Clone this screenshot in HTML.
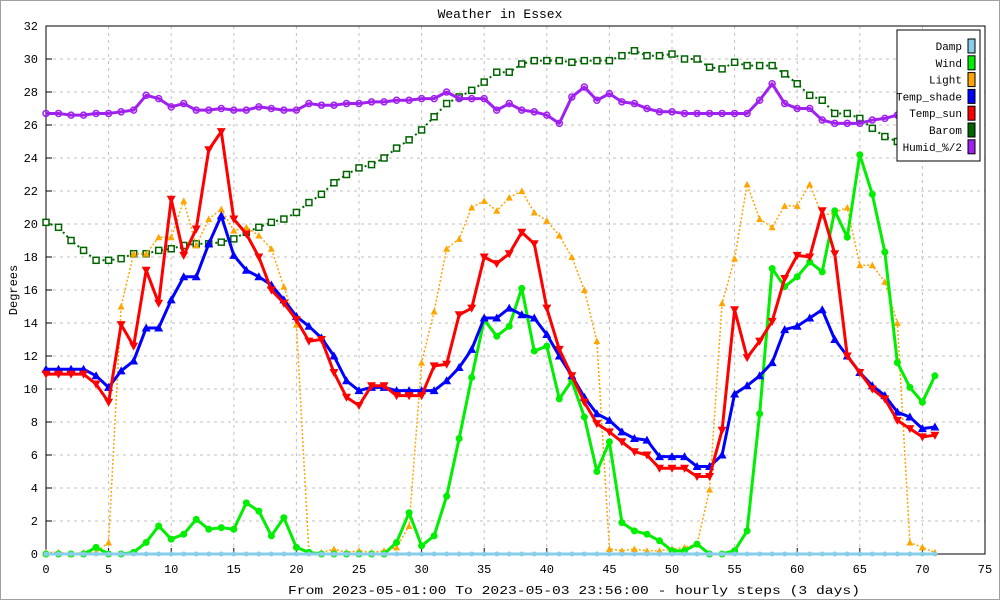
<!DOCTYPE html>
<html><head><meta charset="utf-8"><style>
html,body{margin:0;padding:0;background:#fff}
svg{display:block;font-family:"Liberation Mono",monospace}
</style></head><body>
<svg id="chart" width="1000" height="600" viewBox="0 0 1000 600" xmlns="http://www.w3.org/2000/svg">
<rect x="0.5" y="0.5" width="999" height="599" fill="#fff" stroke="#a0a0a0"/>
<text x="500" y="18" text-anchor="middle" font-size="13">Weather in Essex</text>
<text transform="translate(17,290) rotate(-90)" text-anchor="middle" font-size="12">Degrees</text>
<text x="574" y="594" text-anchor="middle" font-size="11.5" textLength="572" lengthAdjust="spacingAndGlyphs">From 2023-05-01:00 To 2023-05-03 23:56:00 - hourly steps (3 days)</text>
<g id="grid"></g>
<g id="axes"></g>
<g id="series"></g>
<g id="legend"></g>
</svg>
<script>
const xTicks=[0,5,10,15,20,25,30,35,40,45,50,55,60,65,70,75];
const yTicks=[0,2,4,6,8,10,12,14,16,18,20,22,24,26,28,30,32];
const damp=[0,0,0,0,0,0,0,0,0,0,0,0,0,0,0,0,0,0,0,0,0,0,0,0,0,0,0,0,0,0,0,0,0,0,0,0,0,0,0,0,0,0,0,0,0,0,0,0,0,0,0,0,0,0,0,0,0,0,0,0,0,0,0,0,0,0,0,0,0,0,0,0];
const wind=[0,0,0,0,0.4,0,0,0.1,0.7,1.7,0.9,1.2,2.1,1.5,1.6,1.5,3.1,2.6,1.1,2.2,0.4,0.1,0,0,0,0,0,0,0.7,2.5,0.5,1.1,3.5,7.0,10.7,14.2,13.2,13.8,16.1,12.3,12.6,9.4,10.5,8.3,5.0,6.8,1.9,1.4,1.2,0.8,0.2,0.2,0.6,0,0,0.2,1.4,8.5,17.3,16.2,16.8,17.7,17.1,20.8,19.2,24.2,21.8,18.3,11.6,10.1,9.2,10.8];
const light=[0.1,0.1,0,0.1,0.1,0.7,15.0,18.2,18.2,19.2,19.2,21.4,18.7,20.3,20.9,19.6,19.8,19.3,18.5,16.2,13.9,0.1,0.1,0.3,0.1,0.2,0.1,0.2,0.4,1.7,11.6,14.7,18.5,19.1,21.0,21.4,20.8,21.6,22.0,20.7,20.2,19.3,18.0,16.0,12.9,0.3,0.2,0.3,0.2,0.2,0.3,0.4,0.6,3.9,15.2,17.9,22.4,20.3,19.8,21.1,21.1,22.4,20.5,20.7,21.0,17.5,17.5,16.5,14.0,0.7,0.4,0.1];
const tempShade=[11.2,11.2,11.2,11.2,10.8,10.1,11.1,11.7,13.7,13.7,15.4,16.8,16.8,18.8,20.5,18.1,17.2,16.8,16.3,15.4,14.4,13.8,13.1,12.0,10.5,9.9,10.1,10.1,9.9,9.9,9.9,9.9,10.5,11.3,12.4,14.3,14.3,14.9,14.5,14.3,13.3,12.0,10.8,9.5,8.5,8.1,7.4,7.0,6.9,5.9,5.9,5.9,5.3,5.3,6.0,9.7,10.2,10.8,11.6,13.6,13.8,14.3,14.8,13.0,12.0,11.0,10.2,9.6,8.6,8.3,7.6,7.7];
const tempSun=[10.9,10.9,10.9,10.9,10.3,9.2,13.9,12.6,17.2,15.2,21.5,18.1,19.7,24.5,25.6,20.3,19.4,18.0,16.0,15.2,14.2,12.9,13.0,11.0,9.5,9.0,10.2,10.2,9.6,9.6,9.6,11.4,11.5,14.5,14.9,18.0,17.6,18.2,19.5,18.8,14.9,12.4,10.8,9.2,7.9,7.4,6.8,6.2,6.0,5.2,5.2,5.2,4.7,4.7,7.5,14.8,11.9,12.9,14.1,16.7,18.1,18.0,20.8,18.2,12.0,11.0,10.0,9.4,8.1,7.6,7.1,7.2];
const barom=[20.1,19.8,19.0,18.4,17.8,17.8,17.9,18.2,18.2,18.4,18.5,18.7,18.8,18.8,18.9,19.1,19.5,19.8,20.1,20.3,20.7,21.3,21.8,22.5,23.0,23.4,23.6,24.0,24.6,25.1,25.7,26.5,27.3,27.7,28.1,28.6,29.2,29.2,29.7,29.9,29.9,29.9,29.8,29.9,29.9,29.9,30.2,30.5,30.2,30.2,30.3,30.0,30.0,29.5,29.4,29.8,29.6,29.6,29.6,29.1,28.5,27.8,27.5,26.7,26.7,26.4,25.8,25.3,25.0,24.7,24.4,24.2];
const humid=[26.7,26.7,26.6,26.6,26.7,26.7,26.8,26.9,27.8,27.6,27.1,27.3,26.9,26.9,27.0,26.9,26.9,27.1,27.0,26.9,26.9,27.3,27.2,27.2,27.3,27.3,27.4,27.4,27.5,27.5,27.6,27.6,28.0,27.6,27.6,27.6,26.9,27.3,26.9,26.8,26.6,26.1,27.7,28.3,27.5,27.9,27.4,27.3,27.0,26.8,26.8,26.7,26.7,26.7,26.7,26.7,26.7,27.5,28.5,27.3,27.0,27.0,26.3,26.1,26.1,26.1,26.3,26.4,26.6,26.8,27.0,27.0];
const legendNames=["Damp","Wind","Light","Temp_shade","Temp_sun","Barom","Humid_%/2"];

const NS="http://www.w3.org/2000/svg";
const L=46,R=985,T=26,B=554;
const X=v=>L+(v-0)/(75-0)*(R-L);
const Y=v=>B-(v-0)/(32-0)*(B-T);
function mk(tag,attrs,parent){const e=document.createElementNS(NS,tag);for(const k in attrs)e.setAttribute(k,attrs[k]);parent.appendChild(e);return e;}
const grid=document.getElementById('grid'),axes=document.getElementById('axes'),ser=document.getElementById('series'),leg=document.getElementById('legend');
xTicks.forEach(t=>{
  if(t>0&&t<75){const g=mk('line',{x1:X(t),x2:X(t),y1:T,y2:B,stroke:'#c0c0c0','stroke-dasharray':'3,4'},grid);
  
  }
  const tk=mk('line',{x1:X(t),x2:X(t),y1:B,y2:B-6,stroke:'#000'},axes);
  
  
  const tx=mk('text',{x:X(t),y:B+19,'text-anchor':'middle','font-size':12},axes);
  
  
  tx.textContent=t;
});
yTicks.forEach(t=>{
  if(t>0&&t<32){const g=mk('line',{x1:L,x2:R,y1:Y(t),y2:Y(t),stroke:'#c0c0c0','stroke-dasharray':'3,4'},grid);
  
  }
  const tk=mk('line',{x1:L,x2:L+6,y1:Y(t),y2:Y(t),stroke:'#000'},axes);
  
  
  const tx=mk('text',{x:L-8,y:Y(t)+4,'text-anchor':'end','font-size':12},axes);
  
  
  tx.textContent=t;
});
const frame=mk('rect',{x:L,y:T,width:R-L,height:B-T,fill:'none',stroke:'#000'},axes);



function marker(kind,cx,cy,color,g){
  let e;
  if(kind==='tri'){e=mk('polygon',{points:`${cx},${cy-4.5} ${cx-4.5},${cy+3.5} ${cx+4.5},${cy+3.5}`,fill:color},g);}
  else if(kind==='stri'){e=mk('polygon',{points:`${cx},${cy-3.5} ${cx-3.5},${cy+3} ${cx+3.5},${cy+3}`,fill:color},g);}
  else if(kind==='dtri'){e=mk('polygon',{points:`${cx},${cy+4.5} ${cx-4.5},${cy-3.5} ${cx+4.5},${cy-3.5}`,fill:color},g);}
  else if(kind==='circ'){e=mk('circle',{cx:cx,cy:cy,r:3.5,fill:color},g);}
  else if(kind==='sq'){e=mk('rect',{x:cx-3,y:cy-3,width:6,height:6,fill:'#fff',stroke:color,'stroke-width':1.5},g);}
  else if(kind==='ocirc'){e=mk('circle',{cx:cx,cy:cy,r:3,fill:'none',stroke:color,'stroke-width':1.5},g);}
  else {e=mk('circle',{cx:cx,cy:cy,r:2.5,fill:color},g);}
  
  
}
function draw(data,name,color,w,dash,kind){
  const g=mk('g',{},ser);
  
  
  const pts=data.map((v,i)=>X(i)+','+Y(v)).join(' ');
  const pl=mk('polyline',{points:pts,fill:'none',stroke:color,'stroke-width':w,'stroke-linejoin':'round'},g);
  if(dash)pl.setAttribute('stroke-dasharray',dash);
  
  
  data.forEach((v,i)=>marker(kind,X(i),Y(v),color,g));
}
draw(barom,'barom','#006400',2,'2,3','sq');
draw(humid,'humid','#a020f0',3,null,'ocirc');
draw(light,'light','#ffa500',1.5,'2,2','stri');
draw(wind,'wind','#00ee00',3,null,'circ');
draw(tempShade,'temp-shade','#0000ff',3,null,'tri');
draw(tempSun,'temp-sun','#ff0000',3,null,'dtri');
draw(damp,'damp','#87ceeb',3,null,'dot');

const lcol=['#87ceeb','#00ee00','#ffa500','#0000ff','#ff0000','#006400','#a020f0'];
const lb=mk('rect',{x:897,y:30,width:83,height:131,fill:'#fff',stroke:'#000'},leg);


legendNames.forEach((n,i)=>{
  const y=46+i*16.8;
  const t=mk('text',{x:962,y:y+4,'text-anchor':'end','font-size':11},leg);
  
  
  t.textContent=n;
  const s=mk('rect',{x:968,y:y-7,width:7,height:14,fill:lcol[i],stroke:'#000','stroke-width':1},leg);
  
  
});
</script>
</body></html>
